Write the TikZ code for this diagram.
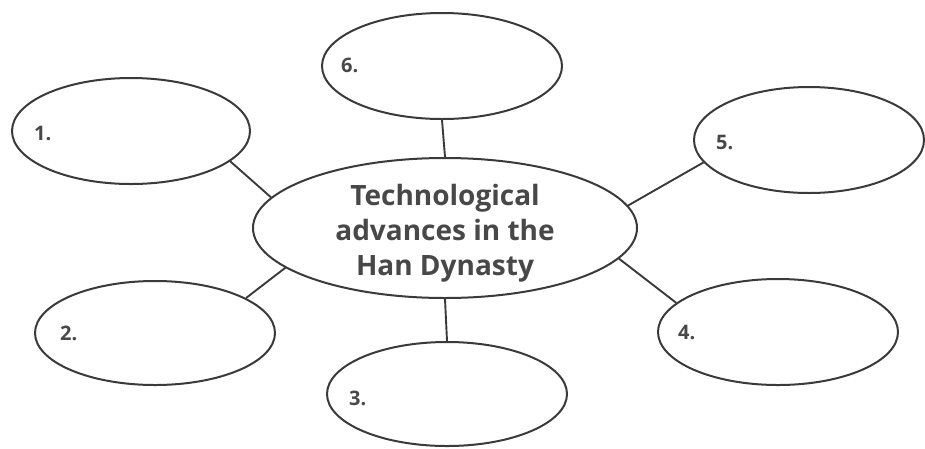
\documentclass[tikz,border=0pt]{standalone}
\usepackage{fontspec}
\setmainfont{Open Sans}
\usetikzlibrary{shapes.geometric}
\definecolor{ink}{HTML}{3A3A3A}
\definecolor{txt}{HTML}{484848}
\begin{document}
\begin{tikzpicture}[x=1pt,y=-1pt,
  bubble/.style={ellipse, draw=ink, line width=2pt, inner sep=0pt, fill=white},
  link/.style={draw=ink, line width=1.9pt},
  num/.style={font=\bfseries\fontsize{20}{24}\selectfont, text=txt, inner sep=0pt, anchor=west},
  title/.style={font=\bfseries\fontsize{28}{35}\selectfont, text=txt, align=center, inner sep=0pt}]
\useasboundingbox (0,0) rectangle (925,448);
\node[bubble, minimum width=384pt, minimum height=140pt] (c) at (445,228) {};
\node[title] (ct) at ([yshift=-5pt]c.center) {Technological\\advances in the\\Han Dynasty};
\node[bubble, minimum width=238pt, minimum height=106pt] (e1) at (131,131) {};
\node[bubble, minimum width=240pt, minimum height=104pt] (e2) at (155,333) {};
\node[bubble, minimum width=240pt, minimum height=104pt] (e3) at (447,394) {};
\node[bubble, minimum width=240pt, minimum height=106pt] (e4) at (778,332) {};
\node[bubble, minimum width=230pt, minimum height=106pt] (e5) at (809,140) {};
\node[bubble, minimum width=240pt, minimum height=106pt] (e6) at (442,66) {};
\node[num] (l1) at ([xshift=23pt,yshift=-2pt]e1.west) {1.};
\node[num] (l2) at ([xshift=26pt]e2.west) {2.};
\node[num] (l3) at ([xshift=23pt,yshift=-4pt]e3.west) {3.};
\node[num] (l4) at ([xshift=21pt]e4.west) {4.};
\node[num] (l5) at ([xshift=23pt,yshift=-2pt]e5.west) {5.};
\node[num] (l6) at ([xshift=20pt,yshift=1pt]e6.west) {6.};
\draw[link] (c.170) -- (e1.-17);
\draw[link] (c.194) -- (e2.21);
\draw[link] (c.270) -- (e3.90);
\draw[link] (c.-10) -- (e4.164);
\draw[link] (c.7) -- (e5.192);
\draw[link] (c.90) -- (e6.270);
\end{tikzpicture}
\end{document}
